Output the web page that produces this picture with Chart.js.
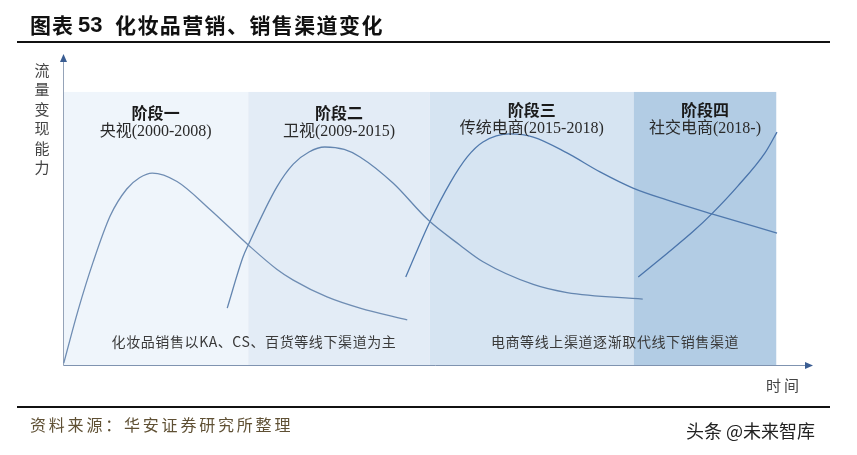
<!DOCTYPE html>
<html>
<head>
<meta charset="utf-8">
<script src="https://cdn.jsdelivr.net/npm/chart.js@4.4.1/dist/chart.umd.min.js"></script>
<style>
  html, body { margin: 0; padding: 0; background: #ffffff; }
  #wrap { width: 857px; height: 455px; position: relative; }
</style>
</head>
<body>
<div id="wrap"><canvas id="c" width="857" height="455"></canvas></div>
<script>
// ---------- data ----------
const sourceText = '资料来源：华安证券研究所整理';
const watermarkText = '头条 @未来智库';
const yAxisLabel = ['流', '量', '变', '现', '能', '力'];
const xAxisLabel = '时间';

const stageNames = ['阶段一', '阶段二', '阶段三', '阶段四'];
const stageMedia = ['央视(2000-2008)', '卫视(2009-2015)', '传统电商(2015-2018)', '社交电商(2018-)'];
const stageBounds = [0, 24.7, 48.9, 76.1, 95.1];   // time units
const stageTop = 87.8;                               // flow units
const noteOffline = '化妆品销售以KA、CS、百货等线下渠道为主';
const noteOnline = '电商等线上渠道逐渐取代线下销售渠道';

// curve 1: 央视
const curve1X = [0.1, 2.0, 4.0, 6.3, 8.5, 10.2, 11.9, 15.2, 19.6, 24.7, 28.5, 30.7, 35.2, 39.6, 45.9];
const curve1Y = [0.6, 17.5, 33.0, 48.0, 56.6, 60.2, 61.7, 59.0, 50.0, 38.6, 30.8, 27.3, 21.9, 18.3, 14.5];
// curve 2: 卫视
const curve2X = [21.9, 24.0, 24.7, 28.5, 30.7, 32.8, 34.9, 37.5, 39.6, 44.0, 48.7, 52.9, 56.0, 62.7, 67.2, 77.3];
const curve2Y = [18.3, 34.7, 38.6, 57.2, 64.6, 68.5, 70.1, 69.3, 66.9, 58.5, 46.6, 38.6, 33.2, 25.9, 23.3, 21.2];
// curve 3: 传统电商
const curve3X = [45.7, 48.9, 51.6, 53.9, 56.0, 59.6, 62.7, 67.2, 71.6, 76.0, 80.5, 86.5, 95.2];
const curve3Y = [28.3, 46.0, 58.5, 66.9, 71.7, 74.3, 73.3, 68.2, 62.1, 56.9, 53.1, 48.6, 42.4];
// curve 4: 社交电商
const curve4X = [76.7, 80.5, 84.0, 86.5, 90.0, 93.6, 95.2];
const curve4Y = [28.3, 35.8, 42.9, 48.6, 57.6, 68.2, 74.9];

// ---------- styles ----------
const stageColors = ['#eff5fb', '#e3ecf6', '#d6e4f2', '#b2cce4'];
const curveColors = ['#6f8db3', '#6486b0', '#5079ad', '#4a74ab'];
const CJK = '"Noto Sans CJK SC", "Noto Sans", sans-serif';
const SERIF = '"Liberation Serif", "Noto Sans CJK SC", serif';

function pts(xs, ys) { return xs.map((x, i) => ({ x: x, y: ys[i] })); }

const curves = [[curve1X, curve1Y], [curve2X, curve2Y], [curve3X, curve3Y], [curve4X, curve4Y]];

const decor = {
  id: 'decor',
  beforeDatasetsDraw(chart) {
    const ctx = chart.ctx;
    const xs = chart.scales.x, ys = chart.scales.y;
    const top = ys.getPixelForValue(stageTop);
    const bottom = ys.getPixelForValue(0);
    ctx.save();
    for (let i = 0; i < stageNames.length; i++) {
      const l = xs.getPixelForValue(stageBounds[i]);
      const r = xs.getPixelForValue(stageBounds[i + 1]);
      ctx.fillStyle = stageColors[i];
      ctx.fillRect(l, top, r - l, bottom - top);
    }
    // axes
    const x0 = xs.getPixelForValue(0) + 0.5;
    const yTop = ys.getPixelForValue(ys.max);
    const xEnd = xs.getPixelForValue(xs.max);
    ctx.strokeStyle = '#95a3b8';
    ctx.lineWidth = 1;
    ctx.beginPath();
    ctx.moveTo(x0, bottom + 0.5);
    ctx.lineTo(x0, yTop + 6);
    ctx.stroke();
    ctx.strokeStyle = '#7f93b0';
    ctx.beginPath();
    ctx.moveTo(x0, bottom + 0.5);
    ctx.lineTo(xEnd - 6, bottom + 0.5);
    ctx.stroke();
    // arrowheads
    ctx.fillStyle = '#3a5d92';
    ctx.beginPath();
    ctx.moveTo(x0, yTop);
    ctx.lineTo(x0 - 3.5, yTop + 8);
    ctx.lineTo(x0 + 3.5, yTop + 8);
    ctx.closePath();
    ctx.fill();
    ctx.beginPath();
    ctx.moveTo(xEnd, bottom + 0.5);
    ctx.lineTo(xEnd - 8, bottom - 3);
    ctx.lineTo(xEnd - 8, bottom + 4);
    ctx.closePath();
    ctx.fill();
    ctx.restore();
  },
  afterDraw(chart) {
    const ctx = chart.ctx;
    const xs = chart.scales.x;
    ctx.save();
    ctx.textBaseline = 'middle';
    // title
    ctx.fillStyle = '#111111';
    ctx.textAlign = 'left';
    ctx.font = 'bold 21px ' + CJK;
    ctx.letterSpacing = '1px';
    ctx.fillText('图表', 30, 25);
    ctx.font = 'bold 22px "Liberation Sans", Arial, sans-serif';
    ctx.letterSpacing = '0px';
    ctx.fillText('53', 78, 26);
    ctx.font = 'bold 21px ' + CJK;
    ctx.letterSpacing = '1.4px';
    ctx.fillText('化妆品营销、销售渠道变化', 115, 25);
    ctx.letterSpacing = '0px';
    // rules
    ctx.fillStyle = '#111111';
    ctx.fillRect(17, 41, 813, 2);
    ctx.fillRect(17, 406, 813, 2);
    // y-axis label
    ctx.fillStyle = '#444444';
    ctx.textAlign = 'center';
    ctx.font = '15px ' + CJK;
    yAxisLabel.forEach((ch, i) => ctx.fillText(ch, 42, 70 + i * 19.5));
    // x-axis label
    ctx.font = '15px ' + CJK;
    ctx.letterSpacing = '3px';
    ctx.fillText(xAxisLabel, 784, 385);
    ctx.letterSpacing = '0px';
    // stage labels
    const titleY = [113, 113, 110, 110];
    const subY = [132, 132, 129, 129];
    for (let i = 0; i < stageNames.length; i++) {
      const cx = (xs.getPixelForValue(stageBounds[i]) + xs.getPixelForValue(stageBounds[i + 1])) / 2;
      ctx.fillStyle = '#1a1a1a';
      ctx.font = 'bold 16px ' + CJK;
      ctx.fillText(stageNames[i], cx, titleY[i]);
      ctx.fillStyle = '#2a2a2a';
      ctx.font = '16px ' + SERIF;
      ctx.fillText(stageMedia[i], cx, subY[i]);
    }
    // notes
    ctx.fillStyle = '#3a3a3a';
    ctx.font = '14px ' + CJK;
    ctx.letterSpacing = '0.6px';
    ctx.fillText(noteOffline, 254, 342);
    ctx.fillText(noteOnline, 615, 342);
    ctx.letterSpacing = '0px';
    // source
    ctx.textAlign = 'left';
    ctx.fillStyle = '#5f5034';
    ctx.font = '16px ' + CJK;
    ctx.letterSpacing = '2.8px';
    ctx.fillText(sourceText, 30, 425);
    ctx.letterSpacing = '0px';
    // watermark
    ctx.fillStyle = '#222222';
    ctx.font = '18px ' + CJK;
    ctx.fillText(watermarkText, 686, 431);
    ctx.restore();
  }
};

new Chart(document.getElementById('c'), {
  type: 'scatter',
  data: {
    datasets: curves.map((c, i) => ({
      data: pts(c[0], c[1]),
      showLine: true,
      borderColor: curveColors[i],
      borderWidth: 1.3,
      pointRadius: 0,
      fill: false,
      cubicInterpolationMode: 'monotone'
    }))
  },
  options: {
    responsive: false,
    animation: false,
    layout: { padding: { left: 63, right: 44, top: 54, bottom: 90 } },
    scales: {
      x: { type: 'linear', min: 0, max: 100, display: false },
      y: { type: 'linear', min: 0, max: 100, display: false }
    },
    plugins: { legend: { display: false }, tooltip: { enabled: false } }
  },
  plugins: [decor]
});
</script>
</body>
</html>
